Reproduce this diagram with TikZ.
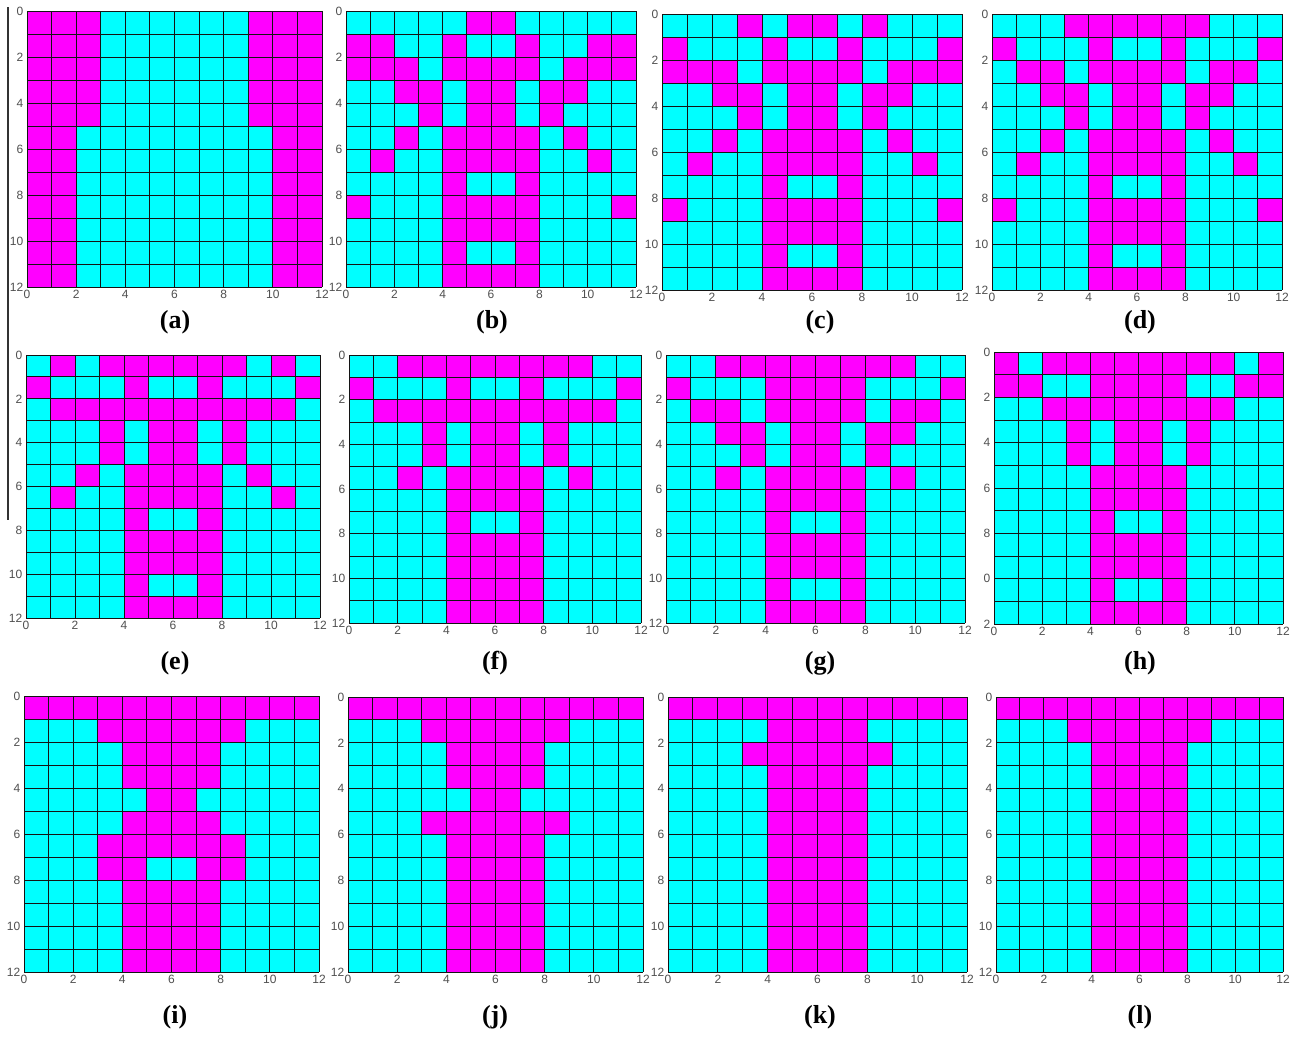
\documentclass[tikz,border=0pt]{standalone}
\usepackage{fontspec}
\setmainfont{Liberation Serif}
\newfontfamily\axisfont{Liberation Sans}
\definecolor{mag}{RGB}{255,0,255}
\definecolor{cya}{RGB}{0,255,255}
\definecolor{ticktext}{RGB}{80,80,80}
\definecolor{gridc}{RGB}{20,20,20}
\newcount\pcCol
\def\pcEnd{}
\def\pcRow#1{\pcCol=0 \pcRowAux#1\pcEnd}
\def\pcRowAux#1{\ifx#1\pcEnd\else\if#11\fill[mag] (\the\pcCol,\rr) rectangle ++(1,1);\fi\advance\pcCol by 1 \expandafter\pcRowAux\fi}
% #1 name, #2 x0, #3 y0, #4 x1, #5 y1, #6 rows, #7 y tick labels
\newcommand{\drawpanel}[7]{%
  \pgfmathsetmacro\cw{(#4-#2)/12}%
  \pgfmathsetmacro\ch{(#5-#3)/12}%
  \begin{scope}[shift={(#2,#3)},x=\cw pt,y=-\ch pt]
    \fill[cya] (0,0) rectangle (12,12);
    \foreach \rowstr [count=\rr from 0] in {#6} {\expandafter\pcRow\expandafter{\rowstr}}
    \foreach \k in {0,...,12} {
      \draw[gridline] (\k,0) -- (\k,12);
      \draw[gridline] (0,\k) -- (12,\k);
    }
    \foreach \lab [count=\i from 0] in {#7} {
      \pgfmathtruncatemacro\yy{2*\i}
      \node[ticklab,anchor=east,xshift=-3.5pt] (#1-y\i) at (0,\yy) {\lab};
    }
    \foreach \xx in {0,2,...,12} {
      \node[ticklab,anchor=north,yshift=-3pt] (#1-x\xx) at (\xx,12) {\xx};
    }
  \end{scope}
}
\begin{document}
\begin{tikzpicture}[x=1pt,y=-1pt,
  gridline/.style={draw=gridc,line width=0.9pt},
  ticklab/.style={font=\axisfont\fontsize{12}{14}\selectfont,text=ticktext,inner sep=0pt},
  caption/.style={font=\fontsize{26}{30}\selectfont\bfseries,inner sep=0pt},
  sideline/.style={draw=black!80,line width=1.2pt}]
\useasboundingbox[fill=white] (0,0) rectangle (1298,1036);

% (a)
\drawpanel{a}{27}{11}{322}{287}{111000000111,111000000111,111000000111,111000000111,111000000111,110000000011,110000000011,110000000011,110000000011,110000000011,110000000011,110000000011}{0,2,4,6,8,10,12}
% (b)
\drawpanel{b}{346}{11}{636}{287}{000001100000,110010010011,111011110111,001101101100,000101101000,001011110100,010011110010,000010010000,100011110001,000011110000,000010010000,000011110000}{0,2,4,6,8,10,12}
% (c)
\drawpanel{c}{662}{14}{962}{290}{000101101000,100010010001,111011110111,001101101100,000101101000,001011110100,010011110010,000010010000,100011110001,000011110000,000010010000,000011110000}{0,2,4,6,8,10,12}
% (d)
\drawpanel{d}{992}{14}{1282}{290}{000111111000,100010010001,011011110110,001101101100,000101101000,001011110100,010011110010,000010010000,100011110001,000011110000,000010010000,000011110000}{0,2,4,6,8,10,12}
% (e)
\drawpanel{e}{26}{355}{320}{618}{010111111010,100010010001,011111111110,000101101000,000101101000,001011110100,010011110010,000010010000,000011110000,000011110000,000010010000,000011110000}{0,2,4,6,8,10,12}
% (f)
\drawpanel{f}{349}{355}{641}{623}{001111111100,100010010001,011111111110,000101101000,000101101000,001011110100,000011110000,000010010000,000011110000,000011110000,000011110000,000011110000}{0,2,4,6,8,10,12}
% (g)
\drawpanel{g}{666}{355}{965}{623}{001111111100,100011110001,011011110110,001101101100,000101101000,001011110100,000011110000,000010010000,000011110000,000011110000,000010010000,000011110000}{0,2,4,6,8,10,12}
% (h)
\drawpanel{h}{994}{352}{1283}{624}{101111111101,110011110011,001111111100,000101101000,000101101000,000011110000,000011110000,000010010000,000011110000,000011110000,000010010000,000011110000}{0,2,4,6,8,0,2}
% (i)
\drawpanel{i}{24}{696}{319}{972}{111111111111,000111111000,000011110000,000011110000,000001100000,000011110000,000111111000,000110011000,000011110000,000011110000,000011110000,000011110000}{0,2,4,6,8,10,12}
% (j)
\drawpanel{j}{348}{697}{643}{972}{111111111111,000111111000,000011110000,000011110000,000001100000,000111111000,000011110000,000011110000,000011110000,000011110000,000011110000,000011110000}{0,2,4,6,8,10,12}
% (k)
\drawpanel{k}{668}{697}{967}{972}{111111111111,000011110000,000111111000,000011110000,000011110000,000011110000,000011110000,000011110000,000011110000,000011110000,000011110000,000011110000}{0,2,4,6,8,10,12}
% (l)
\drawpanel{l}{996}{697}{1283}{972}{111111111111,000111111000,000011110000,000011110000,000011110000,000011110000,000011110000,000011110000,000011110000,000011110000,000011110000,000011110000}{0,2,4,6,8,10,12}

% captions
\node[caption] (cap-a) at (175,322) {(a)};
\node[caption] (cap-b) at (492,322) {(b)};
\node[caption] (cap-c) at (820,322) {(c)};
\node[caption] (cap-d) at (1140,322) {(d)};
\node[caption] (cap-e) at (175,663) {(e)};
\node[caption] (cap-f) at (495,663) {(f)};
\node[caption] (cap-g) at (820,663) {(g)};
\node[caption] (cap-h) at (1140,663) {(h)};
\node[caption] (cap-i) at (175,1017) {(i)};
\node[caption] (cap-j) at (495,1017) {(j)};
\node[caption] (cap-k) at (820,1017) {(k)};
\node[caption] (cap-l) at (1140,1017) {(l)};

% left vertical rule
\coordinate (vl-top) at (8,7);
\coordinate (vl-bot) at (8,520);
\draw[sideline] (vl-top) -- (vl-bot);
\end{tikzpicture}
\end{document}
